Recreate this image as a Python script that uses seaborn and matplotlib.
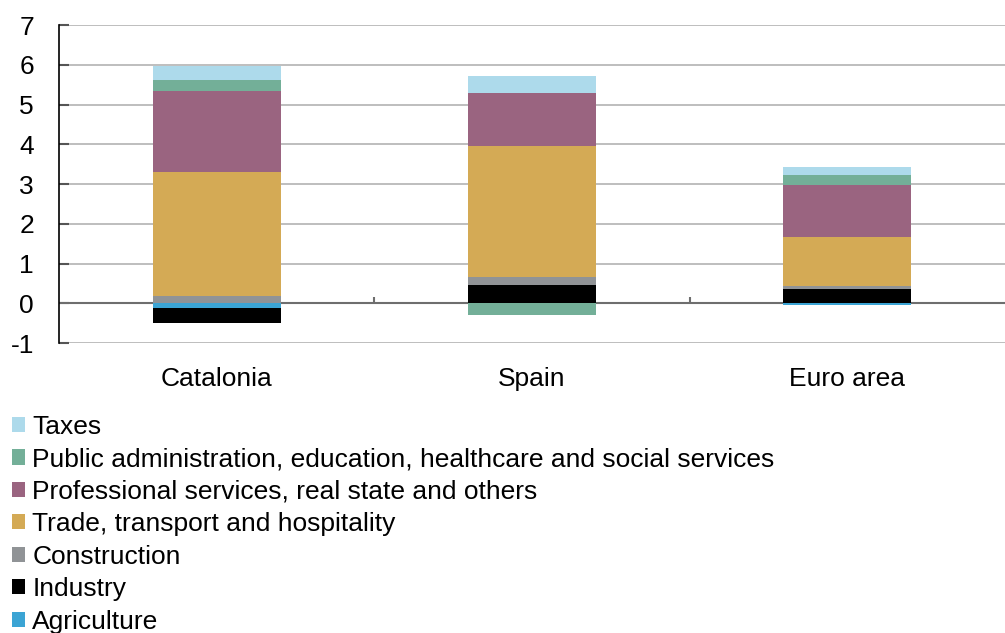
import numpy as np
import pandas as pd
import matplotlib
matplotlib.use("Agg")
import matplotlib.pyplot as plt
import seaborn as sns
from matplotlib.patches import Patch

# categories and series (percentage-point contributions)
regions = ["Catalonia", "Spain", "Euro area"]
agriculture = [-0.12, 0.0, -0.03]
industry = [-0.37, 0.45, 0.35]
construction = [0.19, 0.21, 0.08]
trade = [3.11, 3.30, 1.25]
professional = [2.05, 1.34, 1.29]
public = [0.27, -0.29, 0.25]
taxes = [0.36, 0.42, 0.22]

series_names = [
    "Agriculture",
    "Industry",
    "Construction",
    "Trade, transport and hospitality",
    "Professional services, real state and others",
    "Public administration, education, healthcare and social services",
    "Taxes",
]
series_values = [agriculture, industry, construction, trade, professional, public, taxes]
colors = ["#3BA4D4", "#000000", "#909396", "#D4AA55", "#9A6480", "#73AF98", "#ADDAEB"]

sns.set_style("white")
plt.rcParams["font.family"] = ["Liberation Sans", "DejaVu Sans"]
plt.rcParams["axes.unicode_minus"] = False
plt.rcParams["text.color"] = "black"
plt.rcParams["xtick.color"] = "black"
plt.rcParams["ytick.color"] = "black"

fig = plt.figure(figsize=(10.05, 6.33), dpi=100)
ax = fig.add_axes([0.0587, 0.458, 0.9413, 0.5025])

# stacked bars: positives go up, negatives go down
pos_base = np.zeros(len(regions))
neg_base = np.zeros(len(regions))
for name, vals, col in zip(series_names, series_values, colors):
    vals = np.array(vals, dtype=float)
    bottom = np.where(vals >= 0, pos_base, neg_base)
    df = pd.DataFrame({"region": regions, "value": vals})
    sns.barplot(data=df, x="region", y="value", bottom=bottom, color=col,
                width=0.405, saturation=1, ax=ax, zorder=3, linewidth=0)
    pos_base = pos_base + np.where(vals >= 0, vals, 0)
    neg_base = neg_base + np.where(vals < 0, vals, 0)

ax.set_ylim(-1, 7)
ax.set_xlim(-0.5, len(regions) - 0.5)
ax.set_yticks(range(-1, 8))
ax.yaxis.grid(True, color="#b3b3b3", linewidth=1.2, zorder=0)
ax.set_axisbelow(True)
ax.axhline(0, color="#6e6e6e", linewidth=1.5, zorder=2)
# category separators on the zero line
ax.vlines([0.5, 1.5], 0, 0.17, color="#6e6e6e", linewidth=1.5, zorder=2)

for s in ["top", "right", "bottom"]:
    ax.spines[s].set_visible(False)
ax.spines["left"].set_color("#000000")
ax.spines["left"].set_linewidth(1.2)

ax.tick_params(axis="y", direction="in", length=7, width=1.5, color="#555555",
               labelcolor="black", pad=18, labelsize=19, left=True)
ax.tick_params(axis="x", length=0, pad=17, labelsize=19, labelcolor="black")
ax.set_xlabel("")
ax.set_ylabel("")

handles = [Patch(facecolor=c, edgecolor="none") for c in colors][::-1]
labels = series_names[::-1]
fig.legend(handles, labels, loc="upper left", bbox_to_anchor=(0.012, 0.3445),
           frameon=False, fontsize=19, handlelength=0.5, handleheight=0.5,
           handletextpad=0.27, labelspacing=0.32, borderaxespad=0, borderpad=0)

fig.savefig("out.png", dpi=100)
